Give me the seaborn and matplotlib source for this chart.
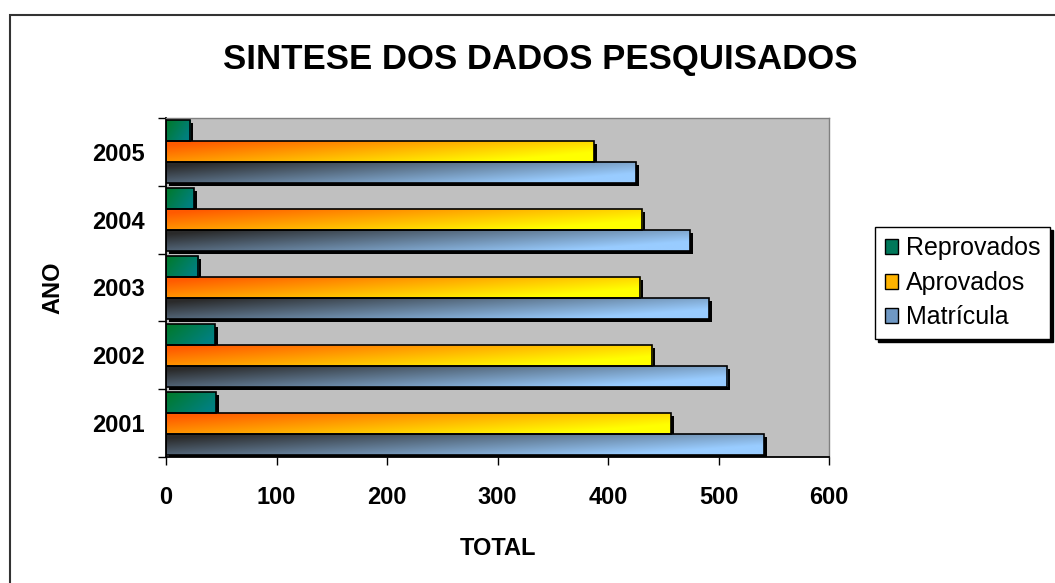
import numpy as np
import pandas as pd
import seaborn as sns
import matplotlib.pyplot as plt
from matplotlib.patches import Rectangle, Patch
from matplotlib.transforms import ScaledTranslation

anos = ['2005', '2004', '2003', '2002', '2001']
reprovados = [22, 25, 29, 44, 45]
aprovados = [387, 431, 429, 440, 457]
matricula = [425, 474, 491, 508, 541]
series = ['Reprovados', 'Aprovados', 'Matrícula']
x_ticks = [0, 100, 200, 300, 400, 500, 600]

# cores do gradiente (inicio, fim) de cada serie
grad = {
    'Reprovados': ('#007a2e', '#008080'),
    'Aprovados': ('#ff5a00', '#ffff00'),
    'Matrícula': ('#2a2a2a', '#99ccff'),
}
leg_cor = {'Reprovados': '#00785a', 'Aprovados': '#ffb400', 'Matrícula': '#6f98c4'}

df = pd.DataFrame({
    'ano': anos * 3,
    'serie': [s for s in series for _ in anos],
    'valor': reprovados + aprovados + matricula,
})

sns.set_theme(style='white')
plt.rcParams['font.family'] = ['Liberation Sans', 'DejaVu Sans']
plt.rcParams['text.color'] = 'black'
plt.rcParams['axes.labelcolor'] = 'black'
plt.rcParams['xtick.color'] = 'black'
plt.rcParams['ytick.color'] = 'black'

fig = plt.figure(figsize=(10.55, 5.83), dpi=100)
ax = fig.add_axes([166 / 1055, 1 - 457 / 583, 663 / 1055, 339 / 583])

sns.barplot(data=df, x='valor', y='ano', hue='serie', orient='h', order=anos,
            hue_order=series, width=0.93, errorbar=None, legend=False,
            palette=leg_cor, ax=ax)


def gradiente(c0, c1, nx=256, ny=32):
    c0 = np.array(plt.matplotlib.colors.to_rgb(c0))
    c1 = np.array(plt.matplotlib.colors.to_rgb(c1))
    u = np.linspace(0, 1, nx)[None, :]
    v = np.linspace(0, 1, ny)[:, None]
    t = np.clip(0.85 * u + 0.45 * v - 0.1, 0, 1)[..., None]
    return c0 * (1 - t) + c1 * t


sombra = ax.transData + ScaledTranslation(3 / 100, -3 / 100, fig.dpi_scale_trans)
for serie, cont in zip(series, ax.containers):
    img = gradiente(*grad[serie])
    for p in cont.patches:
        x0, y0, w, h = p.get_x(), p.get_y(), p.get_width(), p.get_height()
        ax.add_patch(Rectangle((x0, y0), w, h, transform=sombra, facecolor='black',
                               edgecolor='none', zorder=1.5))
        im = ax.imshow(img, extent=(x0, x0 + w, y0 + h, y0), origin='upper',
                       aspect='auto', interpolation='bilinear', zorder=2)
        im.set_clip_path(p)
        p.set_facecolor('none')
        p.set_edgecolor('black')
        p.set_linewidth(1.2)
        p.set_zorder(3)

ax.set_xlim(0, 600)
ax.set_ylim(4.5, -0.5)
ax.set_facecolor('#c0c0c0')
for s in ['top', 'right']:
    ax.spines[s].set_color('#808080')
    ax.spines[s].set_linewidth(1)
for s in ['left', 'bottom']:
    ax.spines[s].set_color('black')
    ax.spines[s].set_linewidth(1.3)

ax.set_xticks(x_ticks)
ax.set_xticklabels([str(t) for t in x_ticks], fontsize=17, fontweight='bold')
ax.tick_params(axis='x', direction='out', length=6, width=1, color='black', pad=15, bottom=True)
ax.set_yticks(range(len(anos)))
ax.set_yticklabels(anos, fontsize=17, fontweight='bold')
ax.set_yticks(np.arange(-0.5, len(anos)), minor=True)
ax.tick_params(axis='y', which='major', length=0, pad=15)
ax.tick_params(axis='y', which='minor', direction='out', length=6, width=1, color='black', left=True)

ax.set_xlabel('TOTAL', fontsize=17, fontweight='bold', labelpad=20)
ax.set_ylabel('ANO', fontsize=17, fontweight='bold', labelpad=20)

fig.text(540 / 1055, 1 - 60 / 583, 'SINTESE DOS DADOS PESQUISADOS', ha='center', va='center',
         fontsize=25, fontweight='bold')

handles = [Patch(facecolor=leg_cor[s], edgecolor='black', linewidth=1) for s in series]
fig.legend(handles, series, loc='upper left', bbox_to_anchor=(875 / 1055, 1 - 227 / 583),
           fontsize=18, frameon=True, fancybox=False, edgecolor='black', framealpha=1,
           shadow={'color': 'black', 'alpha': 1},
           handlelength=0.55, handleheight=0.55, handletextpad=0.3, labelspacing=0.42,
           borderpad=0.38, borderaxespad=0)

fig.add_artist(Rectangle((10 / 1055, -0.1), 1.2, (583 - 15) / 583 + 0.1, transform=fig.transFigure,
                         facecolor='none', edgecolor='#333333', linewidth=1.5))

fig.savefig('out.png', dpi=100)
